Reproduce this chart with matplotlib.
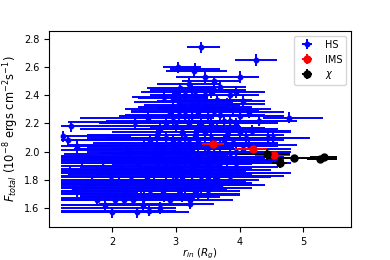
import matplotlib
matplotlib.use("Agg")
import matplotlib.pyplot as plt
import numpy as np

# HS points: marker x, marker y, left end of x-bar, right end of x-bar
hs = [
    (1.23, 2.11, 1.20, 2.30), (1.30, 2.08, 1.20, 2.40), (1.35, 2.18, 1.20, 2.75),
    (1.45, 2.04, 1.20, 2.60), (1.45, 1.96, 1.20, 2.55), (1.53, 1.94, 1.20, 2.70),
    (1.34, 1.86, 1.20, 2.50), (1.45, 1.71, 1.20, 2.40), (1.40, 1.74, 1.20, 2.30),
    (1.76, 1.85, 1.20, 2.90), (1.68, 1.79, 1.20, 2.70), (1.60, 1.76, 1.20, 2.60),
    (1.76, 1.66, 1.20, 2.60), (1.89, 1.62, 1.20, 2.70), (1.92, 1.70, 1.20, 2.80),
    (2.00, 1.57, 1.20, 2.70), (2.05, 1.66, 1.20, 2.90), (2.23, 2.01, 1.20, 3.30),
    (2.25, 1.96, 1.20, 3.20), (2.36, 2.21, 1.30, 3.40), (2.39, 1.57, 1.20, 3.20),
    (2.33, 1.66, 1.20, 3.10), (2.18, 1.66, 1.20, 3.00), (2.20, 1.72, 1.20, 3.10),
    (1.98, 1.83, 1.20, 2.90), (2.10, 1.78, 1.20, 3.00), (1.85, 1.93, 1.20, 2.80),
    (2.15, 1.88, 1.20, 3.10), (2.30, 1.80, 1.20, 3.30), (2.45, 1.74, 1.20, 3.40),
    (2.40, 1.92, 1.20, 3.40), (2.50, 2.05, 1.30, 3.60), (2.48, 1.62, 1.20, 3.20),
    (2.57, 2.24, 1.50, 3.60), (2.60, 1.70, 1.20, 3.50), (2.62, 1.86, 1.20, 3.60),
    (2.65, 1.98, 1.25, 3.70), (2.70, 2.12, 1.60, 3.80), (2.81, 2.39, 2.31, 3.50),
    (2.81, 1.685, 1.50, 3.60), (2.75, 1.60, 1.20, 3.00),
    (3.04, 2.60, 2.80, 3.40), (3.07, 2.45, 2.55, 3.60), (3.28, 2.57, 2.84, 3.80),
    (3.30, 2.59, 2.90, 3.70), (3.39, 2.74, 3.18, 3.70), (4.26, 2.65, 3.93, 4.59),
    (4.01, 2.53, 3.40, 4.30), (3.45, 2.53, 3.00, 3.90), (3.60, 2.50, 3.10, 4.00),
    (3.20, 2.48, 2.70, 3.70), (3.70, 2.46, 3.20, 4.10), (3.55, 2.42, 2.90, 4.10),
    (2.95, 2.38, 2.40, 3.50), (3.15, 2.40, 2.60, 3.80), (3.85, 2.40, 3.30, 4.30),
    (4.05, 2.36, 3.50, 4.40), (3.35, 2.36, 2.70, 3.90), (4.78, 2.24, 4.37, 5.31),
    (3.90, 2.30, 3.20, 4.50), (4.15, 2.28, 3.40, 4.70), (3.10, 2.32, 2.40, 3.80),
    (3.50, 2.30, 2.70, 4.20), (3.70, 2.26, 3.00, 4.40), (4.30, 2.22, 3.60, 4.90),
    (2.90, 2.28, 2.30, 3.60), (3.25, 2.25, 2.40, 4.00), (3.95, 2.20, 3.10, 4.60),
    (4.44, 2.10, 3.80, 5.00), (4.53, 2.10, 3.90, 5.10), (4.20, 2.15, 3.40, 4.80),
    (2.85, 2.20, 1.80, 3.80), (3.00, 2.18, 2.00, 4.00), (3.40, 2.20, 2.30, 4.30),
    (3.65, 2.17, 2.60, 4.40), (3.10, 2.14, 2.00, 4.00), (3.30, 2.12, 2.10, 4.20),
    (3.80, 2.12, 2.80, 4.70), (2.95, 2.08, 1.70, 3.90), (3.20, 2.06, 1.90, 4.10),
    (3.45, 2.04, 2.20, 4.40), (3.90, 2.06, 2.90, 4.60), (4.05, 2.02, 3.00, 4.80),
    (2.80, 2.02, 1.40, 3.80), (3.05, 2.00, 1.60, 4.00), (3.35, 1.98, 2.00, 4.30),
    (3.60, 1.99, 2.30, 4.50), (3.75, 1.96, 2.60, 4.70), (2.90, 1.95, 1.40, 3.90),
    (3.15, 1.93, 1.80, 4.10), (3.50, 1.92, 2.20, 4.40), (3.95, 1.92, 2.80, 4.80),
    (2.70, 1.90, 1.20, 3.70), (3.00, 1.89, 1.50, 4.00), (3.25, 1.88, 1.80, 4.20),
    (3.55, 1.87, 2.30, 4.50), (3.75, 1.85, 2.50, 4.60), (3.96, 1.85, 2.90, 4.80),
    (2.85, 1.84, 1.30, 3.80), (3.10, 1.82, 1.60, 4.00), (3.40, 1.80, 2.00, 4.30),
    (3.41, 1.775, 2.40, 4.10), (2.95, 1.78, 1.20, 3.80), (3.20, 1.76, 1.50, 4.00),
    (3.60, 1.78, 2.60, 4.20), (3.05, 1.73, 1.40, 3.80), (3.30, 1.72, 1.70, 4.00),
    (3.09, 1.68, 1.50, 3.70), (3.22, 1.63, 1.80, 3.60), (3.22, 1.66, 2.30, 3.90),
    (2.90, 1.66, 1.20, 3.50), (3.50, 1.70, 2.20, 4.00), (3.15, 2.25, 2.10, 4.00),
    (3.50, 2.25, 2.50, 4.30), (2.75, 2.16, 1.50, 3.60), (3.35, 2.16, 2.20, 4.20),
    (3.85, 2.22, 2.90, 4.60), (2.60, 2.08, 1.20, 3.60), (3.55, 2.10, 2.50, 4.50),
    (4.10, 2.10, 3.20, 4.90), (3.70, 2.04, 2.60, 4.60), (3.25, 2.02, 2.00, 4.20),
    (2.98, 2.03, 1.60, 3.90), (3.85, 1.99, 2.80, 4.70), (3.40, 1.95, 2.10, 4.40),
    (3.65, 1.93, 2.40, 4.60), (3.20, 1.96, 1.90, 4.20), (2.75, 1.97, 1.20, 3.80),
    (3.30, 1.91, 2.00, 4.20), (3.70, 1.89, 2.50, 4.60), (3.10, 1.86, 1.70, 4.10),
    (2.95, 1.87, 1.30, 3.90), (3.45, 1.85, 2.20, 4.40), (3.65, 1.82, 2.50, 4.50),
    (3.00, 1.80, 1.40, 3.90), (3.25, 1.79, 1.80, 4.10), (3.55, 1.76, 2.40, 4.30),
    (2.85, 1.75, 1.20, 3.70), (3.15, 1.74, 1.60, 4.00), (3.35, 1.69, 1.90, 4.00),
    (2.65, 1.77, 1.20, 3.50), (2.55, 1.82, 1.20, 3.50), (2.50, 1.67, 1.20, 3.30),
    (2.58, 1.58, 1.20, 3.00),
    (3.00, 2.42, 2.45, 3.70), (3.25, 2.44, 2.60, 3.90), (3.45, 2.40, 2.80, 4.10),
    (3.65, 2.37, 3.00, 4.20), (3.80, 2.34, 3.10, 4.40), (3.05, 2.35, 2.35, 3.90),
    (3.25, 2.33, 2.50, 4.00), (3.45, 2.32, 2.70, 4.20), (3.60, 2.29, 2.80, 4.30),
    (2.95, 2.30, 2.20, 3.80), (3.15, 2.29, 2.30, 4.00), (3.35, 2.28, 2.50, 4.20),
    (3.75, 2.22, 2.80, 4.50), (4.00, 2.25, 3.20, 4.70), (3.55, 2.20, 2.60, 4.40),
    (3.20, 2.20, 2.10, 4.10), (2.95, 2.22, 1.90, 3.90), (3.05, 2.26, 2.20, 4.00),
    (3.45, 2.14, 2.30, 4.30), (3.85, 2.16, 2.80, 4.60), (4.00, 2.14, 3.00, 4.80),
    (3.15, 2.10, 1.90, 4.10), (3.35, 2.08, 2.10, 4.30), (3.60, 2.06, 2.40, 4.50),
    (3.05, 2.06, 1.70, 4.00), (2.85, 2.10, 1.60, 3.80), (3.95, 2.00, 2.90, 4.80),
    (3.50, 2.00, 2.20, 4.40), (3.15, 1.99, 1.80, 4.10), (2.85, 1.92, 1.20, 3.80),
    (3.35, 1.93, 2.00, 4.30), (3.80, 1.94, 2.70, 4.70), (3.05, 1.95, 1.60, 4.00),
    (3.55, 1.96, 2.30, 4.50), (3.25, 1.84, 1.80, 4.20), (3.85, 1.83, 2.70, 4.70),
    (3.50, 1.82, 2.20, 4.40), (3.00, 1.85, 1.40, 4.00), (3.40, 1.74, 2.00, 4.20),
    (3.70, 1.76, 2.70, 4.40), (3.05, 1.70, 1.40, 3.80), (2.80, 1.72, 1.20, 3.60),
    (2.70, 2.04, 1.30, 3.70), (2.55, 1.95, 1.20, 3.50), (2.45, 1.85, 1.20, 3.40),
    (3.75, 2.08, 2.70, 4.70), (4.15, 2.05, 3.30, 4.90), (3.30, 2.40, 2.70, 4.00),
    (3.95, 2.42, 3.30, 4.40), (3.60, 2.44, 3.00, 4.10),
]
hs_x = [p[0] for p in hs]
hs_y = [p[1] for p in hs]
hs_xmin = [p[2] for p in hs]
hs_xmax = [p[3] for p in hs]
hs_yerr = 0.04

ims_x = [3.58, 4.21, 4.54]
ims_y = [2.054, 2.018, 1.976]
ims_xmin = [3.41, 3.93, 4.24]
ims_xmax = [3.75, 4.43, 4.79]
ims_yerr = [0.01, 0.01, 0.01]

chi_x = [4.43, 4.63, 4.86, 5.27, 5.33]
chi_y = [1.980, 1.917, 1.957, 1.945, 1.964]
chi_xmin = [3.96, 4.51, 4.45, 5.06, 5.10]
chi_xmax = [4.79, 4.75, 5.20, 5.53, 5.53]
chi_yerr = [0.04, 0.03, 0.01, 0.01, 0.01]

plt.rcParams['font.size'] = 7
fig = plt.figure(figsize=(3.9, 2.6), dpi=100)
ax = fig.add_axes([0.126, 0.127, 0.774, 0.754])

def xerr(x, lo, hi):
    return [np.array(x) - np.array(lo), np.array(hi) - np.array(x)]

ax.errorbar(hs_x, hs_y, xerr=xerr(hs_x, hs_xmin, hs_xmax), yerr=hs_yerr,
            fmt='o', color='b', ms=3.2, elinewidth=1.4, label='HS', zorder=2)
ax.errorbar(ims_x, ims_y, xerr=xerr(ims_x, ims_xmin, ims_xmax), yerr=ims_yerr,
            fmt='o', color='r', ms=5, elinewidth=1.4, label='IMS', zorder=3)
ax.errorbar(chi_x, chi_y, xerr=xerr(chi_x, chi_xmin, chi_xmax), yerr=chi_yerr,
            fmt='o', color='k', ms=5, elinewidth=1.4, label=r'$\chi$', zorder=3)

ax.set_xlim(1.01, 5.75)
ax.set_ylim(1.465, 2.857)
ax.set_xticks([2, 3, 4, 5])
ax.set_yticks([1.6, 1.8, 2.0, 2.2, 2.4, 2.6, 2.8])
ax.set_xlabel(r'$r_{in}$ $(R_g)$', fontsize=7.5, labelpad=0)
ax.set_ylabel(r'$F_{total}$ (10$^{-8}$ ergs cm$^{-2}$s$^{-1}$)', fontsize=8.3, labelpad=2)
ax.legend(loc='upper right', fontsize=7)
fig.savefig('out.png', dpi=100)
